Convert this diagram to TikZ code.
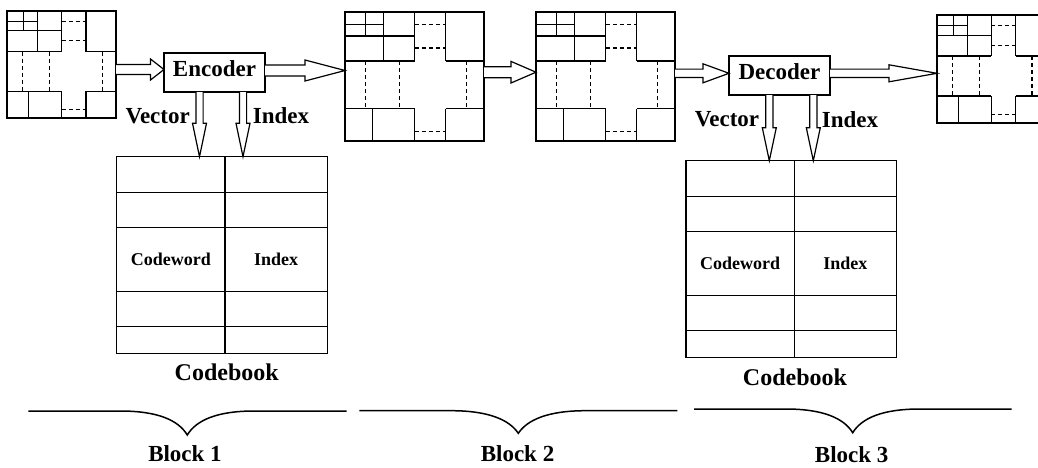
\documentclass[tikz,border=0pt]{standalone}
\usepackage{fontspec}
\setmainfont{Liberation Serif}
\usetikzlibrary{calc}
\tikzset{
 imgbox/.style={draw, line width=1.2pt, inner sep=0pt, outer sep=0pt, anchor=north west},
 gl/.style={line width=1.1pt},
 dl/.style={line width=1.1pt, dash pattern=on 4pt off 3pt},
 procbox/.style={draw, line width=1.2pt, inner sep=0pt, outer sep=0pt, minimum width=101pt, minimum height=39pt, text depth=7pt, font=\fontsize{23}{23}\selectfont\bfseries},
 lbl/.style={font=\fontsize{23}{23}\selectfont\bfseries, inner sep=0pt},
 cbbox/.style={draw, line width=1.2pt, inner sep=0pt, outer sep=0pt, anchor=north west, minimum width=210.6pt, minimum height=196.8pt},
 cbtext/.style={font=\fontsize{18}{18}\selectfont\bfseries, inner sep=0pt},
 cbcap/.style={font=\fontsize{24}{24}\selectfont\bfseries, inner sep=0pt},
 blockarr/.style={draw, line width=1.2pt, fill=white, line join=miter},
 bracel/.style={line width=1.5pt},
}
% image with quad-tree like partition: name, x, y, w, h
\newcommand\qtimg[5]{%
 \node[imgbox, minimum width=#4pt, minimum height=#5pt] (#1) at (#2,#3) {};
 \begin{scope}[shift={(#2,#3)}, xscale=#4, yscale=#5]
  \draw[gl] (0.148,0) -- (0.148,0.186) (0,0.098) -- (0.28,0.098);
  \draw[gl] (0.28,0) -- (0.28,0.38) (0,0.186) -- (0.502,0.186);
  \draw[gl] (0.502,0) -- (0.502,0.38) (0.725,0) -- (0.725,0.38);
  \draw[gl] (0,0.38) -- (0.502,0.38) (0.725,0.38) -- (1,0.38);
  \draw[gl] (0,0.75) -- (0.502,0.75) (0.725,0.75) -- (1,0.75);
  \draw[gl] (0.2,0.75) -- (0.2,1) (0.502,0.75) -- (0.502,1) (0.725,0.75) -- (0.725,1);
  \draw[dl] (0.502,0.097) -- (0.725,0.097) (0.502,0.279) -- (0.725,0.279);
  \draw[dl] (0.146,0.38) -- (0.146,0.75) (0.389,0.38) -- (0.389,0.75) (0.875,0.38) -- (0.875,0.75);
  \draw[dl] (0.502,0.924) -- (0.725,0.924);
 \end{scope}}
% codebook table: name, x, y
\newcommand\cbook[3]{%
 \node[cbbox] (#1) at (#2,#3) {};
 \begin{scope}[shift={(#2,#3)}]
  \draw[gl] (108.3,0) -- (108.3,196.8);
  \draw[gl] (0,35.5) -- (210.6,35.5) (0,71) -- (210.6,71) (0,134.7) -- (210.6,134.7) (0,169.7) -- (210.6,169.7);
  \node[cbtext] (#1cw) at (54.15,102.85) {Codeword};
  \node[cbtext] (#1ix) at (159.45,102.85) {Index};
 \end{scope}}
% horizontal block arrow: start, end, y, shaft half, head half, head length
\newcommand\harrow[6]{%
 \draw[blockarr] let \p1=(#1), \p2=(#2), \p3=(0,#3) in
  (\x1,\y3-#4pt) -- (\x2-#6pt,\y3-#4pt) -- (\x2-#6pt,\y3-#5pt) -- (\x2,\y3)
  -- (\x2-#6pt,\y3+#5pt) -- (\x2-#6pt,\y3+#4pt) -- (\x1,\y3+#4pt);}
% vertical block arrow (downwards): start, end, x, shaft half, head half, head length
\newcommand\varrow[6]{%
 \draw[blockarr] let \p1=(#1), \p2=(#2), \p3=(#3,0) in
  (\x3-#4pt,\y1) -- (\x3-#4pt,\y2+#6pt) -- (\x3-#5pt,\y2+#6pt) -- (\x3,\y2)
  -- (\x3+#5pt,\y2+#6pt) -- (\x3+#4pt,\y2+#6pt) -- (\x3+#4pt,\y1);}
% brace: left, right, top, centre, tip
\newcommand\hbrace[5]{%
 \draw[bracel] (#1,#3) -- ({#4-67},#3) .. controls ({#4-30},#3) and ({#4-9},{#3+9}) .. (#4,#5)
  .. controls ({#4+9},{#3+9}) and ({#4+30},#3) .. ({#4+67},#3) -- (#2,#3);}

\begin{document}
\begin{tikzpicture}[x=1pt,y=-1pt]
\useasboundingbox (0,0) rectangle (1038,467);
\clip (0,0) rectangle (1038,467);

\qtimg{img1}{7}{11}{109}{107}
\qtimg{img2}{345}{12}{139}{129}
\qtimg{img3}{536}{12}{139}{129}
\qtimg{img4}{937}{15}{108.5}{108}

\node[procbox] (enc) at (214.5,72.5) {Encoder};
\node[procbox] (dec) at (779.5,75.5) {Decoder};

\cbook{cb1}{116.7}{156.7}
\cbook{cb2}{686}{160.7}

\node[cbcap, anchor=base] (cap1) at (226.7,380) {Codebook};
\node[cbcap, anchor=base] (cap2) at (795,385) {Codebook};

\harrow{img1.east}{enc.west}{69.5}{5}{10.5}{13.5}
\harrow{enc.east}{img2.west}{70.5}{5.5}{10.5}{40}
\harrow{img2.east}{img3.west}{72.2}{5.5}{10.8}{25}
\harrow{img3.east}{dec.west}{73.3}{4.2}{9.5}{26}
\harrow{dec.east}{img4.west}{73.3}{4.2}{8.5}{48}

\varrow{enc.south}{cb1.north}{199.5}{3.6}{7}{33.4}
\varrow{enc.south}{cb1.north}{243}{3.6}{7}{33.4}
\varrow{dec.south}{cb2.north}{769.3}{3.6}{7}{33}
\varrow{dec.south}{cb2.north}{813.3}{3.6}{7}{33}

\node[lbl, anchor=base east] (v1) at (190,123.3) {Vector};
\node[lbl, anchor=base west] (i1) at (252.7,123.3) {Index};
\node[lbl, anchor=base east] (v2) at (759.3,126.7) {Vector};
\node[lbl, anchor=base west] (i2) at (821.7,127) {Index};

\hbrace{28.3}{346.7}{411}{187.3}{435}
\hbrace{359.3}{677.3}{410.7}{518.3}{433.3}
\hbrace{694}{1011.7}{409}{852.7}{432.7}

\node[lbl, anchor=base] (b1) at (185,461.7) {Block 1};
\node[lbl, anchor=base] (b2) at (517.5,461.5) {Block 2};
\node[lbl, anchor=base] (b3) at (851.7,462.5) {Block 3};
\end{tikzpicture}
\end{document}
